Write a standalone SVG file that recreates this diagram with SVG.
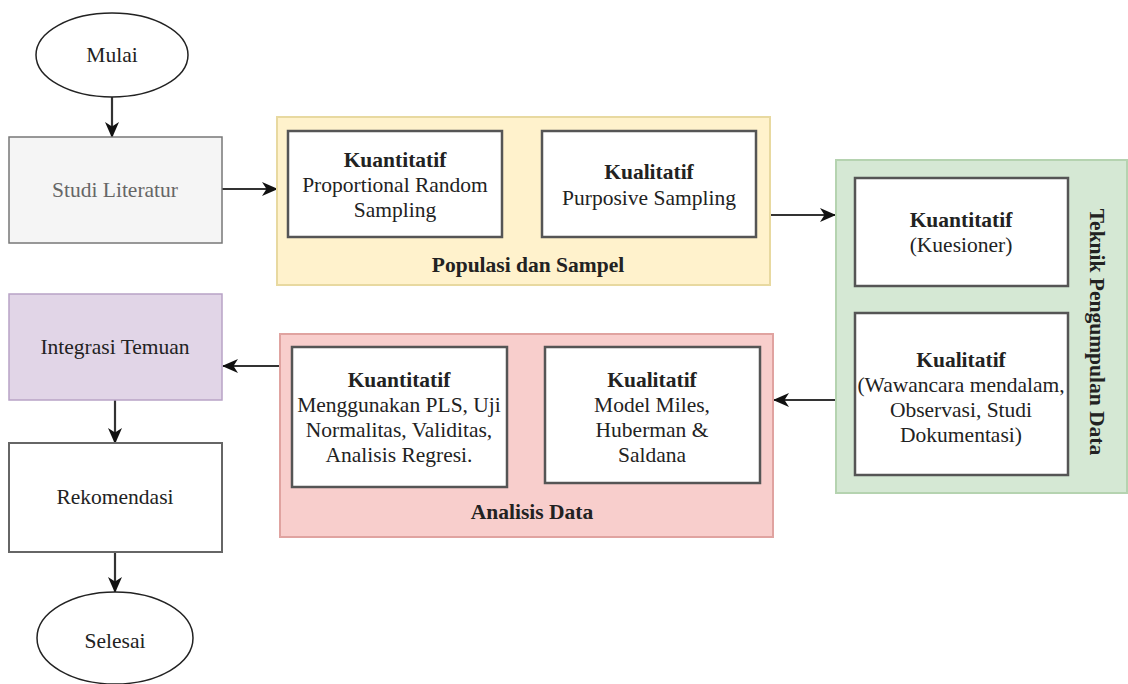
<svg xmlns="http://www.w3.org/2000/svg" width="1128" height="684" viewBox="0 0 1128 684">
<defs>
<marker id="arr" viewBox="0 0 16 14" markerWidth="16" markerHeight="14" refX="15" refY="7" orient="auto" markerUnits="userSpaceOnUse">
<path d="M0,0 L16,7 L0,14 L4.5,7 z" fill="#111"/>
</marker>
<style>
text{font-family:"Liberation Serif","Times New Roman",serif;font-size:21.5px;fill:#222;text-anchor:middle}
.b{font-weight:bold}
.g{fill:#666}
.inner{fill:#fff;stroke:#555;stroke-width:2.5}
.conn{stroke:#333;stroke-width:2.2;fill:none;marker-end:url(#arr)}
</style>
</defs>
<rect width="1128" height="684" fill="#fff"/>
<g id="connectors">
<line class="conn" x1="112" y1="97" x2="112" y2="137"/>
<line class="conn" x1="222" y1="189" x2="277" y2="189"/>
<line class="conn" x1="770" y1="215" x2="835" y2="215"/>
<line class="conn" x1="837" y1="400" x2="774" y2="400"/>
<line class="conn" x1="280" y1="366" x2="223" y2="366"/>
<line class="conn" x1="115" y1="400" x2="115" y2="443"/>
<line class="conn" x1="115" y1="552" x2="115" y2="592"/>
</g>
<g id="mulai">
<ellipse cx="112" cy="55" rx="76" ry="42" fill="#fff" stroke="#222" stroke-width="1.5"/>
<text x="112" y="62">Mulai</text>
</g>
<g id="studi">
<rect x="9" y="137" width="213" height="106" fill="#f5f5f5" stroke="#777" stroke-width="1.5"/>
<text class="g" x="115" y="197">Studi Literatur</text>
</g>
<g id="populasi">
<rect x="277" y="117" width="493" height="168" fill="#fff2cc" stroke="#e8d9a0" stroke-width="2"/>
<rect class="inner" x="288" y="131" width="214" height="106"/>
<text x="395" y="167"><tspan class="b">Kuantitatif</tspan><tspan x="395" dy="25">Proportional Random</tspan><tspan x="395" dy="25">Sampling</tspan></text>
<rect class="inner" x="542" y="131" width="214" height="106"/>
<text x="649" y="179"><tspan class="b">Kualitatif</tspan><tspan x="649" dy="26">Purposive Sampling</tspan></text>
<text class="b" x="528" y="272">Populasi dan Sampel</text>
</g>
<g id="teknik">
<rect x="836" y="160" width="291" height="333" fill="#d5e8d4" stroke="#b5d3b0" stroke-width="2"/>
<rect class="inner" x="855" y="178" width="213" height="108"/>
<text x="961" y="227"><tspan class="b">Kuantitatif</tspan><tspan x="961" dy="25">(Kuesioner)</tspan></text>
<rect class="inner" x="855" y="313" width="213" height="162"/>
<text x="961" y="367"><tspan class="b">Kualitatif</tspan><tspan x="961" dy="25">(Wawancara mendalam,</tspan><tspan x="961" dy="25">Observasi, Studi</tspan><tspan x="961" dy="25">Dokumentasi)</tspan></text>
<text class="b" transform="translate(1090,332) rotate(90)" x="0" y="0">Teknik Pengumpulan Data</text>
</g>
<g id="analisis">
<rect x="280" y="334" width="493" height="203" fill="#f8cecc" stroke="#e0a3a0" stroke-width="2"/>
<rect class="inner" x="292" y="347" width="215" height="140"/>
<text x="399" y="387"><tspan class="b">Kuantitatif</tspan><tspan x="399" dy="25">Menggunakan PLS, Uji</tspan><tspan x="399" dy="25">Normalitas, Validitas,</tspan><tspan x="399" dy="25">Analisis Regresi.</tspan></text>
<rect class="inner" x="545" y="347" width="215" height="136"/>
<text x="652" y="387"><tspan class="b">Kualitatif</tspan><tspan x="652" dy="25">Model Miles,</tspan><tspan x="652" dy="25">Huberman &amp;</tspan><tspan x="652" dy="25">Saldana</tspan></text>
<text class="b" x="532" y="519">Analisis Data</text>
</g>
<g id="integrasi">
<rect x="9" y="294" width="213" height="106" fill="#e1d5e7" stroke="#b8a3c6" stroke-width="1.5"/>
<text x="115" y="354">Integrasi Temuan</text>
</g>
<g id="rekomendasi">
<rect x="9" y="443" width="213" height="109" fill="#fff" stroke="#666" stroke-width="2"/>
<text x="115" y="504">Rekomendasi</text>
</g>
<g id="selesai">
<ellipse cx="115" cy="638" rx="78" ry="46" fill="#fff" stroke="#222" stroke-width="1.5"/>
<text x="115" y="648">Selesai</text>
</g>
</svg>
